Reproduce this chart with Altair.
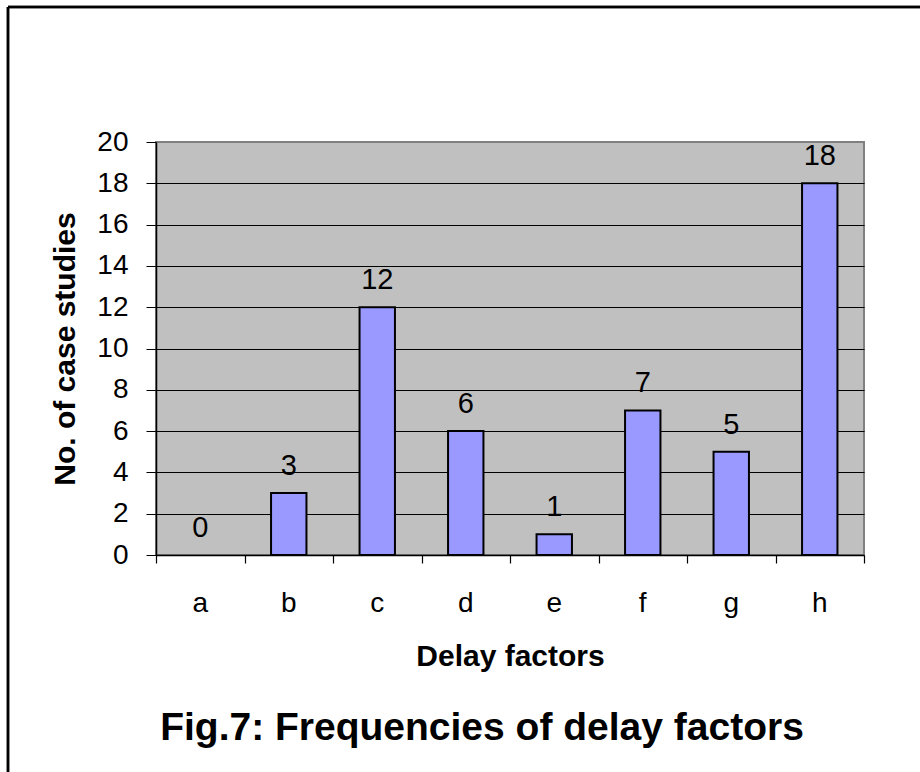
import altair as alt
import pandas as pd

categories = ["a", "b", "c", "d", "e", "f", "g", "h"]
counts = [0, 3, 12, 6, 1, 7, 5, 18]
y_ticks = [0, 2, 4, 6, 8, 10, 12, 14, 16, 18, 20]

df = pd.DataFrame({"factor": categories, "count": counts})
edges = pd.DataFrame({"edge": [0, len(categories)]})

W, H = 708, 413
FONT = "Liberation Sans"

x_band = alt.X(
    "factor:N",
    sort=categories,
    scale=alt.Scale(paddingInner=0, paddingOuter=0),
    axis=alt.Axis(
        title="Delay factors",
        labelAngle=0,
        ticks=False,
        domain=True,
        domainColor="black",
        domainWidth=1.5,
        labelFontSize=28,
        labelColor="black",
        labelPadding=34,
        labelBaseline="top",
        titleFontSize=30,
        titleFontWeight="bold",
        titleColor="black",
        titlePadding=24,
        zindex=1,
    ),
)

y_enc = alt.Y(
    "count:Q",
    scale=alt.Scale(domain=[0, 20], nice=False),
    axis=alt.Axis(
        values=y_ticks,
        title="No. of case studies",
        tickSize=10,
        tickColor="black",
        domainColor="black",
        domainWidth=1.5,
        labelFontSize=28,
        labelColor="black",
        labelPadding=18,
        titleFontSize=30,
        titleFontWeight="bold",
        titleColor="black",
        titlePadding=16,
        grid=True,
        gridColor={"condition": {"test": "datum.value === 20", "value": "#808080"}, "value": "black"},
        gridWidth=1.2,
        gridOpacity=1,
    ),
)

bars = alt.Chart(df).mark_bar(
    width=alt.RelativeBandSize(0.4),
    color="#9999ff",
    stroke="black",
    strokeWidth=2,
).encode(
    x=x_band,
    y=y_enc,
    strokeOpacity=alt.condition(alt.datum["count"] > 0, alt.value(1), alt.value(0)),
)

labels = alt.Chart(df).mark_text(
    dy=-18, baseline="alphabetic", fontSize=29, color="black", font=FONT
).encode(x=alt.X("factor:N", sort=categories), y=alt.Y("count:Q"), text="count:Q")

main = alt.layer(bars, labels)

ticks = alt.Chart(edges).mark_point(opacity=0).encode(
    x=alt.X(
        "edge:Q",
        scale=alt.Scale(domain=[0, len(categories)], nice=False, zero=False),
        axis=alt.Axis(
            orient="bottom",
            values=list(range(len(categories) + 1)),
            labels=False,
            tickSize=8,
            tickColor="black",
            tickWidth=1.2,
            domain=False,
            grid=False,
            title=None,
        ),
    )
)

frame_left = alt.Chart(edges).mark_rule(color="black", strokeWidth=2.5).encode(
    x=alt.value(-148), y=alt.value(-135), y2=alt.value(H + 217)
)
frame_top = alt.Chart(edges).mark_rule(color="black", strokeWidth=2.5).encode(
    x=alt.value(-148), x2=alt.value(W + 56), y=alt.value(-135)
)

chart = (
    alt.layer(main, ticks, frame_left, frame_top)
    .resolve_scale(x="independent")
    .properties(
        width=W,
        height=H,
        autosize=alt.AutoSizeParams(type="none"),
        padding={"left": 156, "top": 142, "right": 56, "bottom": 217},
        background="white",
        title=alt.TitleParams(
            "Fig.7: Frequencies of delay factors",
            orient="bottom",
            fontSize=39,
            fontWeight="bold",
            color="black",
            anchor="middle",
            baseline="alphabetic",
            dx=-28,
            dy=-33,
            offset=0,
        ),
    )
    .configure(font=FONT)
    .configure_view(fill="#c0c0c0", stroke="#808080", strokeWidth=2)
)

chart.save("out.html", embed_options={"renderer": "svg", "actions": False})
